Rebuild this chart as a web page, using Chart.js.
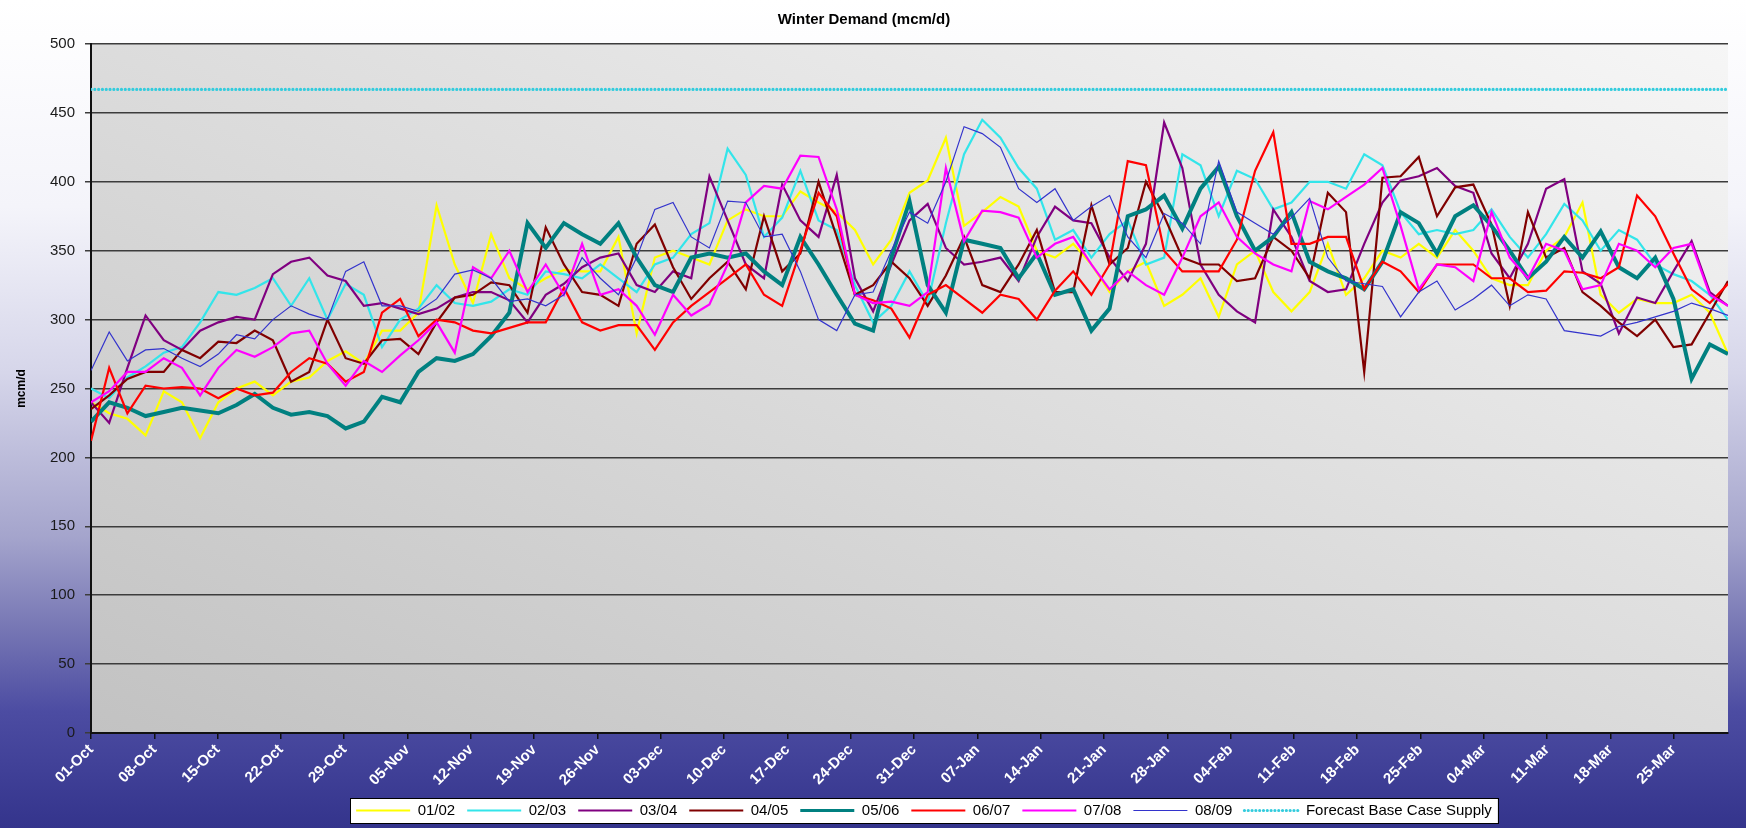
<!DOCTYPE html>
<html>
<head>
<meta charset="utf-8">
<title>Winter Demand (mcm/d)</title>
<script src="https://cdn.jsdelivr.net/npm/chart.js@4.4.1/dist/chart.umd.min.js"></script>
<style>
  html, body { margin: 0; padding: 0; background: #fff; }
  canvas { display: block; }
</style>
</head>
<body>
<canvas id="chart" width="1746" height="828"></canvas>
<script>
// weekly tick labels, one every 7 days from 01-Oct
const tickLabels = ['01-Oct','08-Oct','15-Oct','22-Oct','29-Oct','05-Nov','12-Nov','19-Nov','26-Nov',
  '03-Dec','10-Dec','17-Dec','24-Dec','31-Dec','07-Jan','14-Jan','21-Jan','28-Jan','04-Feb','11-Feb',
  '18-Feb','25-Feb','04-Mar','11-Mar','18-Mar','25-Mar']

const seasons = ['01/02', '02/03', '03/04', '04/05', '05/06', '06/07', '07/08', '08/09']

// demand read every other day, 01-Oct .. 31-Mar (mcm/d)
const demand0102 = [
  240,232,228,216,248,240,214,240,250,255,245,255,258,
  270,277,268,292,292,305,383,340,312,362,330,322,330,
  336,335,335,360,290,345,350,345,340,372,380,375,375,
  393,385,378,365,340,358,392,401,432,368,378,389,382,
  350,345,355,340,320,335,342,310,318,330,302,340,350,
  320,306,320,355,318,330,350,345,355,345,365,350,330,
  325,325,350,360,385,318,305,315,312,312,318,305,275]
const demand0203 = [
  250,243,258,266,276,280,298,320,318,323,330,310,330,
  300,326,318,280,300,308,325,312,310,313,322,318,335,
  333,330,340,330,320,340,345,362,370,424,405,360,374,
  408,372,365,325,298,310,335,312,370,420,445,432,410,
  395,358,365,345,362,372,340,345,420,412,375,408,402,
  380,385,400,400,395,420,412,378,362,365,362,365,380,
  360,345,362,384,372,350,365,358,340,333,328,318,300]
const demand0304 = [
  240,225,265,303,285,278,292,298,302,300,333,342,345,
  332,328,310,312,308,304,308,316,320,320,314,298,318,
  326,338,345,348,325,320,335,330,404,372,340,330,398,
  372,360,405,330,306,340,372,384,352,340,342,345,328,
  360,382,372,370,345,328,355,443,410,340,318,306,298,
  380,360,328,320,322,355,385,401,404,410,397,392,348,
  330,355,395,402,335,326,290,316,312,335,357,320,310]
const demand0405 = [
  235,245,257,262,262,278,272,284,283,292,285,255,262,
  300,272,268,285,286,275,298,316,318,327,325,305,367,
  340,320,318,310,355,369,338,315,330,342,322,375,335,
  348,400,360,318,325,342,330,310,332,360,325,320,340,
  365,320,320,383,340,352,400,375,345,340,340,328,330,
  360,350,330,392,378,262,403,404,418,375,396,398,369,
  310,378,345,352,320,310,298,288,300,280,282,305,328]
const demand0506 = [
  226,240,236,230,233,236,234,232,238,246,236,231,233,
  230,221,226,244,240,262,272,270,275,288,305,370,352,
  370,362,355,370,345,325,320,345,348,345,348,335,325,
  360,340,318,297,292,345,386,325,305,358,355,352,330,
  348,318,322,292,308,375,380,390,366,395,411,375,350,
  360,378,342,335,330,322,342,378,370,348,375,383,368,
  350,330,342,360,345,364,338,330,345,315,257,282,275]
const demand0607 = [
  212,265,232,252,250,251,250,243,250,245,247,262,272,
  268,255,262,305,315,288,300,298,292,290,294,298,298,
  323,298,292,296,296,278,298,310,320,330,340,318,310,
  350,392,375,318,314,308,287,318,325,315,305,318,315,
  300,321,335,318,340,415,412,350,335,335,335,358,408,
  436,355,355,360,360,322,342,335,320,340,340,340,330,
  330,320,321,335,334,330,338,390,375,348,322,312,326]
const demand0708 = [
  240,248,262,262,272,265,245,265,278,273,280,290,292,
  268,252,270,262,274,285,298,276,338,330,350,320,340,
  318,355,318,322,310,289,318,303,311,340,385,397,395,
  419,418,380,318,312,313,310,320,410,357,379,378,374,
  345,355,360,340,322,335,325,318,345,375,385,360,348,
  340,335,386,380,389,398,410,368,322,340,338,328,378,
  345,330,355,350,322,325,355,350,338,352,355,318,310]
const demand0809 = [
  263,291,270,278,279,272,266,275,289,286,300,310,304,
  300,335,342,310,310,306,315,333,336,330,313,315,310,
  318,345,330,318,345,380,385,360,352,386,385,360,362,
  335,300,292,318,320,350,378,370,400,440,435,425,395,
  385,395,372,382,390,360,345,377,370,355,415,378,370,
  362,374,388,345,328,326,324,302,320,328,307,315,325,
  310,318,315,292,290,288,295,298,302,306,312,308,303]

const forecastSupply = [467, 467]

const seasonColors = ['#FFFF00', '#33E5EA', '#800080', '#800000', '#008080', '#FF0000', '#FF00FF', '#3333CC']
const seasonWidths = [2.2, 2.2, 2.2, 2.2, 4, 2.2, 2.2, 1.2]

const LAST_DAY = 181
const LEGEND_SHIFT = 60
const X_AXIS_HEIGHT = 58

function toPoints(vals){
  return vals.map((v, i) => ({ x: i * LAST_DAY / (vals.length - 1), y: v }))
}

const allDemand = [demand0102, demand0203, demand0304, demand0405, demand0506, demand0607, demand0708, demand0809]

let datasets = allDemand.map((vals, i) => ({
  label: seasons[i],
  data: toPoints(vals),
  borderColor: seasonColors[i],
  backgroundColor: seasonColors[i],
  borderWidth: seasonWidths[i],
  order: seasons.length - i
}))
datasets.push({
  label: 'Forecast Base Case Supply',
  data: toPoints(forecastSupply),
  borderColor: '#33CCDD',
  backgroundColor: '#33CCDD',
  borderWidth: 3.2,
  borderDash: [0.01, 3.8],
  borderCapStyle: 'round',
  order: 0
})

// page background, plot area shading and the white legend box
const backdrop = {
  id: 'backdrop',
  afterLayout(chart){
    chart.legend.left += LEGEND_SHIFT
    chart.legend.right += LEGEND_SHIFT
  },
  beforeDraw(chart){
    const { ctx, width, height, chartArea: a } = chart
    ctx.save()
    let g = ctx.createLinearGradient(0, 0, 0, height)
    g.addColorStop(0, '#ffffff')
    g.addColorStop(0.25, '#f4f4fa')
    g.addColorStop(0.45, '#d6d6ea')
    g.addColorStop(0.65, '#a4a4cc')
    g.addColorStop(0.76, '#7676b4')
    g.addColorStop(0.86, '#4c4ca2')
    g.addColorStop(1, '#34348c')
    ctx.fillStyle = g
    ctx.fillRect(0, 0, width, height)

    const w = a.right - a.left, h = a.bottom - a.top
    const s = 2 * w * h / (w * w + h * h)
    let pg = ctx.createLinearGradient(a.left, a.bottom, a.left + h * s, a.bottom - w * s)
    pg.addColorStop(0, '#c2c2c2')
    pg.addColorStop(1, '#f6f6f6')
    ctx.fillStyle = pg
    ctx.fillRect(a.left, a.top, w, h)

    const boxes = chart.legend.legendHitBoxes
    if(boxes && boxes.length){
      const first = boxes[0], last = boxes[boxes.length - 1]
      const x0 = first.left - 6, x1 = last.left + last.width + 6
      const y0 = first.top - 5, y1 = first.top + first.height + 5
      ctx.fillStyle = '#ffffff'
      ctx.fillRect(x0, y0, x1 - x0, y1 - y0)
      ctx.strokeStyle = '#000000'
      ctx.lineWidth = 1
      ctx.strokeRect(Math.round(x0) + 0.5, Math.round(y0) + 0.5, Math.round(x1 - x0), Math.round(y1 - y0))
    }
    ctx.restore()
  }
}

Chart.defaults.font.family = "'Liberation Sans', Arial, sans-serif"
Chart.defaults.color = '#000000'

const chart = new Chart(document.getElementById('chart'), {
  type: 'line',
  data: { datasets: datasets },
  plugins: [backdrop],
  options: {
    responsive: false,
    animation: false,
    devicePixelRatio: 1,
    layout: { padding: { left: 0, right: 18, top: 0, bottom: 0 } },
    elements: {
      point: { radius: 0 },
      line: { tension: 0, fill: false }
    },
    scales: {
      x: {
        type: 'linear',
        min: 0,
        max: LAST_DAY,
        border: { color: '#111111', width: 2 },
        grid: { drawOnChartArea: false, drawTicks: true, tickLength: 6, color: '#111111', lineWidth: 1.5 },
        ticks: {
          stepSize: 7,
          includeBounds: false,
          autoSkip: false,
          minRotation: 45,
          maxRotation: 45,
          color: '#ffffff',
          padding: 2,
          font: { size: 15, weight: 'bold' },
          callback: v => tickLabels[Math.round(v / 7)]
        },
        afterFit: s => { s.height = X_AXIS_HEIGHT }
      },
      y: {
        min: 0,
        max: 500,
        border: { color: '#111111', width: 2 },
        grid: { color: '#3c3c3c', lineWidth: 1.5, tickLength: 6 },
        ticks: { stepSize: 50, color: '#1a1a1a', padding: 10, font: { size: 15 } },
        title: {
          display: true,
          text: 'mcm/d',
          color: '#000000',
          font: { size: 12, weight: 'bold' },
          padding: { top: 14, bottom: 0 }
        },
        afterFit: s => { s.width = 91 }
      }
    },
    plugins: {
      title: {
        display: true,
        text: 'Winter Demand (mcm/d)',
        color: '#000000',
        font: { size: 15, weight: 'bold' },
        padding: { top: 11, bottom: 15 }
      },
      legend: {
        position: 'bottom',
        labels: {
          usePointStyle: true,
          pointStyleWidth: 54,
          padding: 12,
          color: '#000000',
          font: { size: 15 },
          sort: (a, b) => a.datasetIndex - b.datasetIndex,
          generateLabels: c => c.data.datasets.map((ds, i) => ({
            text: ds.label,
            datasetIndex: i,
            fillStyle: ds.borderColor,
            strokeStyle: ds.borderColor,
            lineWidth: Math.min(ds.borderWidth, 3.2),
            lineDash: ds.borderDash || [],
            lineCap: ds.borderCapStyle || 'butt',
            pointStyle: 'line',
            hidden: false,
            fontColor: '#000000'
          }))
        }
      },
      tooltip: { enabled: false }
    }
  }
})
</script>
</body>
</html>
